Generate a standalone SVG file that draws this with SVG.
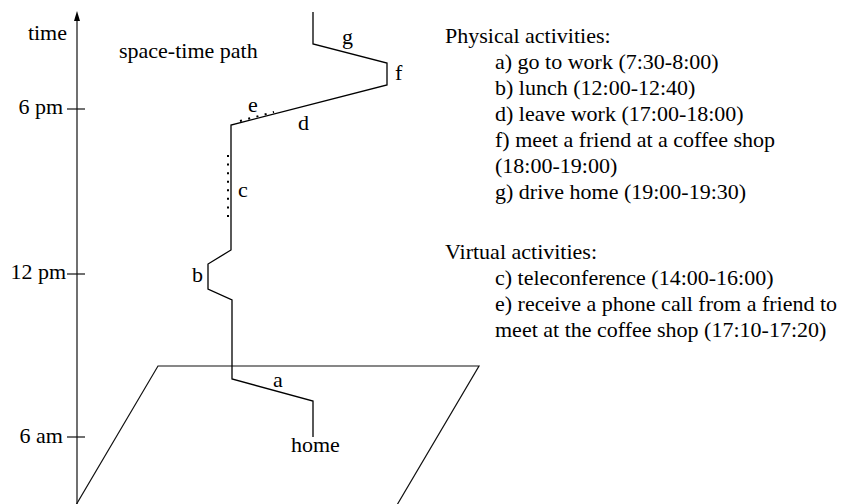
<svg xmlns="http://www.w3.org/2000/svg" width="846" height="504" viewBox="0 0 846 504">
  <style>
    text { font-family: "Liberation Serif", "Times New Roman", serif; font-size: 22px; fill: #000; }
    .ln { fill: none; stroke: #000; stroke-width: 1.3; stroke-linejoin: miter; }
    .thin { fill: none; stroke: #111; stroke-width: 1.2; }
    .dots { fill: none; stroke: #000; stroke-width: 2; stroke-linecap: butt; }
  </style>

  <g id="time-axis">
    <line class="thin" x1="77" y1="506" x2="77" y2="20"/>
    <path d="M77,11 L74,21 L80,21 Z" fill="#000"/>
    <line class="thin" x1="67" y1="109" x2="85" y2="109"/>
    <line class="thin" x1="67" y1="274" x2="85" y2="274"/>
    <line class="thin" x1="67" y1="437" x2="85" y2="437"/>
    <text x="67" y="40" text-anchor="end">time</text>
    <text x="63" y="114" text-anchor="end">6 pm</text>
    <text x="66" y="279" text-anchor="end">12 pm</text>
    <text x="63" y="443" text-anchor="end">6 am</text>
  </g>

  <g id="ground-plane">
    <polygon class="thin" points="158,366 479,366 397,505 76,505"/>
  </g>

  <g id="space-time-path">
    <polyline class="ln" points="313,437 313,401 232,379 232,300 208,289 208,264 231,250 231,125 387,85 387,63 313,44 313,12"/>
    <line class="dots" x1="228" y1="155" x2="228" y2="217" stroke-dasharray="2 6.57"/>
    <line class="dots" x1="240" y1="121" x2="274" y2="112" stroke-dasharray="2 6.5"/>
  </g>

  <g id="path-labels">
    <text x="119" y="58">space-time path</text>
    <text x="342" y="44">g</text>
    <text x="395" y="80">f</text>
    <text x="248" y="112">e</text>
    <text x="298" y="130">d</text>
    <text x="238" y="197">c</text>
    <text x="192" y="282">b</text>
    <text x="273" y="387">a</text>
    <text x="291" y="452">home</text>
  </g>

  <g id="legend">
    <text x="445" y="43">Physical activities:</text>
    <text x="495" y="69">a) go to work (7:30-8:00)</text>
    <text x="495" y="95">b) lunch (12:00-12:40)</text>
    <text x="495" y="121">d) leave work (17:00-18:00)</text>
    <text x="495" y="147">f) meet a friend at a coffee shop</text>
    <text x="495" y="173">(18:00-19:00)</text>
    <text x="495" y="199">g) drive home (19:00-19:30)</text>
    <text x="445" y="259">Virtual activities:</text>
    <text x="495" y="285">c) teleconference (14:00-16:00)</text>
    <text x="495" y="311">e) receive a phone call from a friend to</text>
    <text x="495" y="337">meet at the coffee shop (17:10-17:20)</text>
  </g>
</svg>
